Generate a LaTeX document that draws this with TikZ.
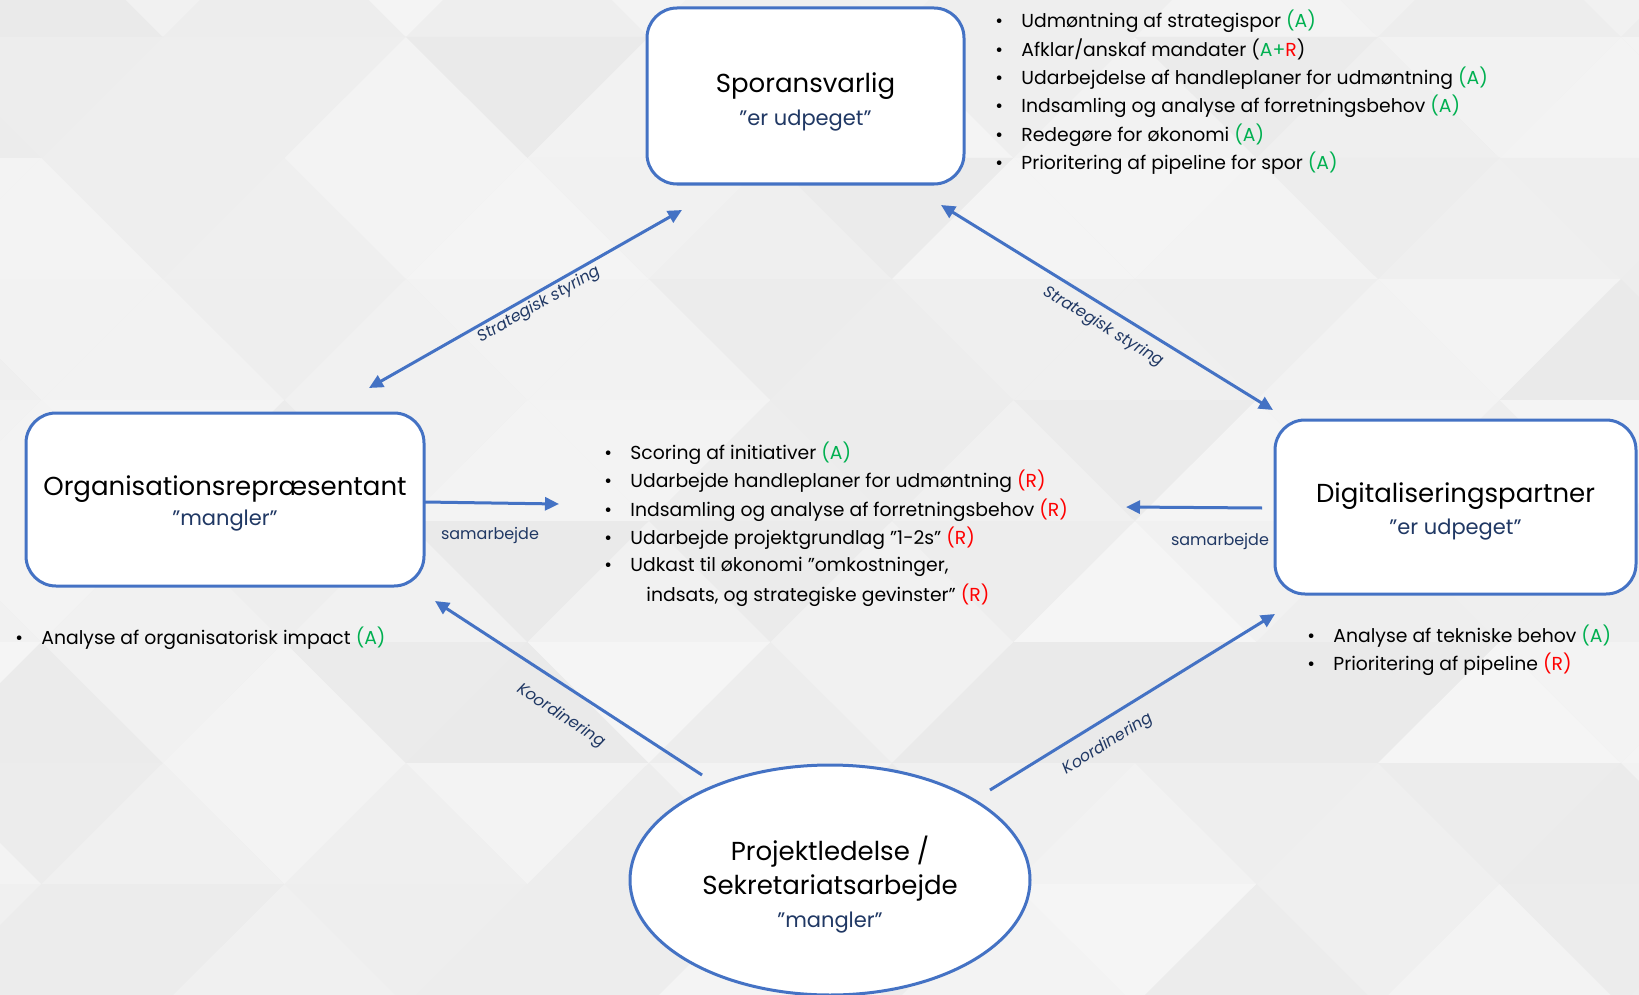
\documentclass[tikz,border=0pt]{standalone}
\usepackage{fontspec}
\setmainfont{Poppins}
\usetikzlibrary{arrows.meta,shapes.geometric}

\definecolor{lineblue}{HTML}{4472C4}
\definecolor{navy}{HTML}{203864}
\definecolor{okgreen}{HTML}{00B050}
\definecolor{alertred}{HTML}{FF0000}
\definecolor{bgbase}{HTML}{EEEEEE}

\newcommand{\markA}{\textcolor{okgreen}{(A)}}
\newcommand{\markR}{\textcolor{alertred}{(R)}}
\newcommand{\bul}{\makebox[13pt][l]{•}}

\tikzset{
  rolebox/.style={draw=lineblue, line width=1.5pt, fill=white, rounded corners=15pt, inner sep=0pt},
  roleoval/.style={ellipse, draw=lineblue, line width=1.5pt, fill=white, inner sep=0pt},
  roletitle/.style={inner sep=0pt, font=\fontsize{13}{16}\selectfont},
  rolesub/.style={inner sep=0pt, text=navy, font=\fontsize{10.5}{12}\selectfont},
  listitem/.style={anchor=west, inner sep=0pt, font=\fontsize{9.4}{11}\selectfont},
  flowlabel/.style={inner sep=0pt, text=navy, font=\fontsize{8}{10}\selectfont},
  tiltlabel/.style={inner sep=0pt, text=navy, font=\fontsize{8}{10}\selectfont\itshape},
  link/.style={draw=lineblue, line width=1.5pt, -{Triangle[length=7pt,width=6.5pt]}},
  duallink/.style={draw=lineblue, line width=1.5pt, {Triangle[length=7pt,width=6.5pt]}-{Triangle[length=7pt,width=6.5pt]}},
}

\begin{document}
\begin{tikzpicture}[x=0.5pt,y=-0.5pt]
\useasboundingbox (0,0) rectangle (1639,995);

% faceted grey background: a lattice of triangles in soft greys
\fill[bgbase] (0,0) rectangle (1639,995);
\pgfmathsetseed{11}
\foreach \r in {-1,...,8}{
  \pgfmathsetmacro\ytop{37+121*\r}
  \pgfmathsetmacro\ybot{\ytop+121}
  \pgfmathsetmacro\a{163+121.5*mod(\r+2,2)}
  \foreach \k in {-2,...,7}{
    \pgfmathsetmacro\xa{\a+243*\k}
    \pgfmathsetmacro\sdown{4+4.5*rnd}
    \pgfmathsetmacro\sup{4+4.5*rnd}
    \fill[black!\sdown] (\xa,\ytop) -- (\xa+243,\ytop) -- (\xa+121.5,\ybot) -- cycle;
    \fill[black!\sup] (\xa+121.5,\ybot) -- (\xa+364.5,\ybot) -- (\xa+243,\ytop) -- cycle;
  }
}

% role boxes
\node[rolebox, minimum width=158.5pt, minimum height=88pt] (spor) at (805.5,96) {};
\node[roletitle] (sporT) at (805.5,86) {Sporansvarlig};
\node[rolesub] (sporS) at (805.5,121) {”er udpeget”};

\node[rolebox, minimum width=199pt, minimum height=86.5pt] (org) at (225,499.5) {};
\node[roletitle] (orgT) at (225,489) {Organisationsrepræsentant};
\node[rolesub] (orgS) at (225,521) {”mangler”};

\node[rolebox, minimum width=180.5pt, minimum height=87pt] (dig) at (1455.5,507) {};
\node[roletitle] (digT) at (1455.5,496) {Digitaliseringspartner};
\node[rolesub] (digS) at (1455.5,530) {”er udpeget”};

\node[roleoval, minimum width=200pt, minimum height=115pt] (proj) at (830,880) {};
\node[roletitle] (projT1) at (830,852) {Projektledelse /};
\node[roletitle] (projT2) at (830,888) {Sekretariatsarbejde};
\node[rolesub] (projS) at (830,923) {”mangler”};

% connector end points
\coordinate (s1a) at (369,388);  \coordinate (s1b) at (682,210);
\coordinate (s2a) at (941,205);  \coordinate (s2b) at (1273,410);
\coordinate (c1a) at (424,502);  \coordinate (c1b) at (559,504);
\coordinate (c2a) at (1262,508); \coordinate (c2b) at (1126,507);
\coordinate (k1a) at (702,775);  \coordinate (k1b) at (435,601);
\coordinate (k2a) at (990,790);  \coordinate (k2b) at (1275,614);

\draw[duallink] (s1a) -- (s1b);
\draw[duallink] (s2a) -- (s2b);
\draw[link] (c1a) -- (c1b);
\draw[link] (c2a) -- (c2b);
\draw[link] (k1a) -- (k1b);
\draw[link] (k2a) -- (k2b);

% connector labels
\node[tiltlabel, rotate=29.6] (l1) at (539,305) {Strategisk styring};
\node[tiltlabel, rotate=-31.6] (l2) at (1103,327) {Strategisk styring};
\node[flowlabel] (l3) at (490,535) {samarbejde};
\node[flowlabel] (l4) at (1220,541) {samarbejde};
\node[tiltlabel, rotate=-33] (l5) at (561,716) {Koordinering};
\node[tiltlabel, rotate=32] (l6) at (1108,744) {Koordinering};

% task lists
\node[listitem] (t1) at (995,21)  {\bul Udmøntning af strategispor \markA};
\node[listitem] (t2) at (995,49.5)  {\bul Afklar/anskaf mandater (\textcolor{okgreen}{A+}\textcolor{alertred}{R})};
\node[listitem] (t3) at (995,78)  {\bul Udarbejdelse af handleplaner for udmøntning \markA};
\node[listitem] (t4) at (995,106.5) {\bul Indsamling og analyse af forretningsbehov \markA};
\node[listitem] (t5) at (995,135) {\bul Redegøre for økonomi \markA};
\node[listitem] (t6) at (995,163.5) {\bul Prioritering af pipeline for spor \markA};

\node[listitem] (m1) at (604,453) {\bul Scoring af initiativer \markA};
\node[listitem] (m2) at (604,481.5) {\bul Udarbejde handleplaner for udmøntning \markR};
\node[listitem] (m3) at (604,510) {\bul Indsamling og analyse af forretningsbehov \markR};
\node[listitem] (m4) at (604,538.5) {\bul Udarbejde projektgrundlag ”1-2s” \markR};
\node[listitem] (m5) at (604,567) {\bul Udkast til økonomi ”omkostninger,};
\node[listitem] (m6) at (604,595.5) {\hspace*{21pt}indsats, og strategiske gevinster” \markR};

\node[listitem] (o1) at (15,638) {\bul Analyse af organisatorisk impact \markA};

\node[listitem] (d1) at (1307,636) {\bul Analyse af tekniske behov \markA};
\node[listitem] (d2) at (1307,664) {\bul Prioritering af pipeline \markR};
\end{tikzpicture}
\end{document}
